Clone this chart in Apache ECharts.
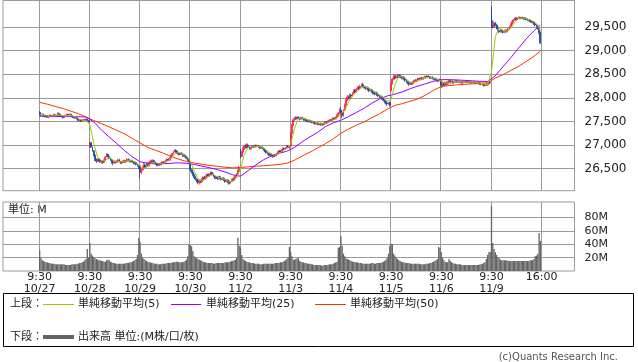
<!DOCTYPE html>
<html><head><meta charset="utf-8">
<script src="https://cdn.jsdelivr.net/npm/echarts@6/dist/echarts.min.js"></script>
<style>html,body{margin:0;padding:0;background:#fff}#c{width:638px;height:362px}</style>
</head><body><div id="c"></div>
<script>
// ---- tick labels / categories ----
const dayLabels = ['10/27','10/28','10/29','10/30','11/2','11/3','11/4','11/5','11/6','11/9'];
const openTime = '9:30', closeTime = '16:00';
const priceTicks = [26500,27000,27500,28000,28500,29000,29500];
const volTicks = [20,40,60,80];

// ---- 10-minute bars per day: [open, close, low, high] ----
const d1027 = [[27690,27660,27620,27720],[27660,27640,27615,27680],[27640,27655,27610,27670],[27655,27620,27600,27665],[27620,27600,27585,27640],[27600,27625,27590,27640],[27625,27590,27575,27635],[27590,27610,27570,27620],[27610,27630,27600,27650],[27630,27600,27590,27640],[27600,27620,27590,27635],[27620,27640,27610,27660],[27640,27615,27600,27660],[27615,27630,27600,27645],[27630,27670,27620,27690],[27670,27645,27630,27690],[27645,27625,27610,27660],[27625,27600,27590,27640],[27600,27580,27565,27615],[27580,27610,27570,27620],[27610,27630,27600,27640],[27630,27650,27620,27665],[27650,27640,27625,27660],[27640,27655,27635,27670],[27655,27630,27620,27665],[27630,27605,27595,27640],[27605,27590,27575,27615],[27590,27570,27555,27600],[27570,27585,27560,27595],[27585,27555,27540,27590],[27555,27520,27500,27565],[27520,27535,27505,27545],[27535,27505,27490,27545],[27505,27520,27495,27530],[27520,27540,27510,27550],[27540,27525,27510,27555],[27525,27550,27515,27560],[27550,27520,27505,27560],[27520,27500,27470,27535]];
const d1028 = [[26970,27050,26940,27080],[27050,26960,26940,27060],[26960,26880,26860,26970],[26880,26790,26760,26890],[26790,26700,26660,26800],[26700,26660,26620,26720],[26660,26700,26640,26720],[26700,26680,26650,26720],[26680,26640,26620,26700],[26640,26660,26610,26680],[26660,26630,26600,26680],[26630,26680,26620,26700],[26680,26750,26670,26770],[26750,26800,26740,26830],[26800,26760,26740,26820],[26760,26720,26700,26780],[26720,26680,26660,26740],[26680,26640,26600,26700],[26640,26620,26570,26660],[26620,26650,26600,26670],[26650,26630,26610,26670],[26630,26660,26620,26680],[26660,26690,26650,26710],[26690,26650,26630,26710],[26650,26620,26600,26670],[26620,26640,26600,26660],[26640,26670,26620,26690],[26670,26640,26620,26690],[26640,26660,26620,26680],[26660,26700,26640,26720],[26700,26680,26650,26720],[26680,26650,26630,26700],[26650,26670,26630,26690],[26670,26640,26620,26690],[26640,26610,26590,26660],[26610,26630,26590,26650],[26630,26590,26570,26650],[26590,26560,26540,26610],[26560,26520,26500,26580]];
const d1029 = [[26560,26420,26300,26580],[26420,26470,26380,26500],[26470,26520,26450,26560],[26520,26580,26500,26620],[26580,26540,26520,26610],[26540,26600,26520,26640],[26600,26560,26540,26630],[26560,26620,26550,26650],[26620,26660,26600,26690],[26660,26640,26610,26690],[26640,26670,26620,26700],[26670,26630,26610,26690],[26630,26600,26580,26650],[26600,26570,26550,26620],[26570,26600,26550,26620],[26600,26580,26560,26620],[26580,26610,26570,26630],[26610,26640,26590,26660],[26640,26620,26600,26660],[26620,26650,26610,26670],[26650,26670,26630,26690],[26670,26700,26650,26720],[26700,26680,26660,26720],[26680,26730,26670,26750],[26730,26780,26710,26800],[26780,26820,26770,26840],[26820,26860,26800,26880],[26860,26890,26840,26910],[26890,26860,26840,26910],[26860,26820,26800,26880],[26820,26800,26780,26840],[26800,26830,26780,26850],[26830,26810,26790,26850],[26810,26770,26750,26830],[26770,26790,26750,26810],[26790,26760,26740,26810],[26760,26720,26700,26780],[26720,26690,26660,26740],[26690,26660,26630,26710]];
const d1030 = [[26600,26480,26430,26620],[26480,26420,26390,26500],[26420,26380,26340,26440],[26380,26330,26300,26400],[26330,26280,26250,26350],[26280,26240,26210,26300],[26240,26200,26170,26260],[26200,26250,26160,26270],[26250,26220,26190,26270],[26220,26270,26200,26300],[26270,26320,26250,26340],[26320,26290,26270,26350],[26290,26340,26270,26360],[26340,26380,26320,26400],[26380,26350,26330,26400],[26350,26390,26330,26410],[26390,26420,26370,26440],[26420,26380,26360,26440],[26380,26340,26320,26400],[26340,26300,26280,26360],[26300,26320,26280,26340],[26320,26290,26260,26340],[26290,26330,26270,26350],[26330,26300,26280,26350],[26300,26270,26250,26320],[26270,26300,26250,26320],[26300,26260,26240,26320],[26260,26230,26200,26280],[26230,26260,26210,26280],[26260,26220,26190,26280],[26220,26190,26160,26240],[26190,26230,26170,26250],[26230,26270,26210,26290],[26270,26250,26230,26300],[26250,26300,26240,26330],[26300,26340,26280,26360],[26340,26390,26320,26410],[26390,26450,26370,26480],[26450,26500,26420,26560]];
const d1102 = [[26900,26760,26720,26930],[26760,26850,26740,26880],[26850,26920,26830,26960],[26920,26980,26900,27010],[26980,26950,26920,27020],[26950,27000,26930,27040],[27000,26960,26940,27030],[26960,26920,26900,26980],[26920,26950,26900,26970],[26950,26980,26930,27000],[26980,26960,26940,27000],[26960,26990,26940,27010],[26990,26970,26950,27010],[26970,26990,26950,27010],[26990,26960,26940,27000],[26960,26940,26920,26980],[26940,26960,26920,26980],[26960,26930,26910,26970],[26930,26900,26880,26950],[26900,26870,26850,26920],[26870,26840,26820,26890],[26840,26820,26790,26860],[26820,26790,26770,26840],[26790,26810,26770,26830],[26810,26780,26750,26820],[26780,26760,26730,26800],[26760,26790,26740,26810],[26790,26770,26750,26810],[26770,26810,26760,26830],[26810,26850,26800,26870],[26850,26880,26830,26900],[26880,26860,26840,26900],[26860,26900,26850,26920],[26900,26930,26880,26950],[26930,26910,26890,26950],[26910,26940,26890,26960],[26940,26980,26920,27000],[26980,26950,26930,27000],[26950,26960,26920,26990]];
const d1103 = [[26980,27250,26960,27280],[27250,27420,27230,27450],[27420,27540,27400,27570],[27540,27580,27510,27600],[27580,27560,27530,27610],[27560,27590,27540,27610],[27590,27570,27550,27610],[27570,27550,27520,27590],[27550,27580,27530,27600],[27580,27560,27540,27600],[27560,27530,27510,27580],[27530,27550,27510,27570],[27550,27520,27500,27570],[27520,27500,27480,27540],[27500,27520,27480,27540],[27520,27500,27480,27540],[27500,27480,27460,27520],[27480,27500,27460,27520],[27500,27470,27450,27510],[27470,27450,27430,27490],[27450,27470,27430,27490],[27470,27440,27420,27480],[27440,27460,27420,27480],[27460,27430,27410,27480],[27430,27450,27410,27470],[27450,27430,27410,27470],[27430,27460,27420,27480],[27460,27490,27440,27510],[27490,27470,27450,27510],[27470,27500,27460,27520],[27500,27530,27490,27550],[27530,27510,27490,27550],[27510,27540,27500,27560],[27540,27570,27530,27590],[27570,27550,27530,27590],[27550,27590,27540,27610],[27590,27630,27570,27650],[27630,27680,27610,27700],[27680,27740,27650,27780]];
const d1104 = [[27740,27700,27640,27800],[27700,27620,27570,27720],[27620,27740,27600,27760],[27740,27850,27720,27880],[27850,27950,27830,27980],[27950,28020,27930,28060],[28020,27990,27960,28050],[27990,28060,27970,28090],[28060,28040,28010,28090],[28040,28100,28020,28130],[28100,28150,28080,28180],[28150,28130,28100,28190],[28130,28180,28110,28210],[28180,28220,28160,28250],[28220,28200,28170,28250],[28200,28250,28180,28280],[28250,28280,28230,28310],[28280,28250,28220,28320],[28250,28230,28200,28270],[28230,28200,28170,28250],[28200,28220,28180,28240],[28220,28180,28150,28240],[28180,28150,28120,28200],[28150,28170,28130,28190],[28170,28130,28100,28190],[28130,28100,28070,28150],[28100,28080,28050,28120],[28080,28110,28060,28130],[28110,28070,28040,28130],[28070,28040,28010,28090],[28040,28010,27980,28060],[28010,28030,27990,28050],[28030,27990,27960,28050],[27990,27950,27920,28010],[27950,27920,27880,27970],[27920,27890,27860,27940],[27890,27870,27830,27910],[27870,27900,27850,27920],[27900,27850,27810,27920]];
const d1105 = [[28150,28300,28120,28330],[28300,28400,28280,28430],[28400,28450,28370,28490],[28450,28420,28390,28480],[28420,28470,28400,28500],[28470,28440,28410,28500],[28440,28480,28420,28500],[28480,28450,28420,28500],[28450,28420,28390,28470],[28420,28440,28390,28460],[28440,28400,28370,28460],[28400,28370,28340,28420],[28370,28340,28310,28390],[28340,28310,28280,28360],[28310,28290,28250,28330],[28290,28320,28270,28340],[28320,28300,28270,28340],[28300,28340,28280,28360],[28340,28370,28320,28390],[28370,28350,28330,28400],[28350,28380,28330,28400],[28380,28410,28360,28430],[28410,28390,28370,28430],[28390,28420,28370,28440],[28420,28400,28380,28440],[28400,28430,28380,28450],[28430,28450,28410,28470],[28450,28430,28410,28470],[28430,28460,28410,28480],[28460,28440,28420,28480],[28440,28420,28400,28460],[28420,28440,28400,28460],[28440,28410,28390,28460],[28410,28390,28370,28430],[28390,28410,28370,28430],[28410,28380,28360,28430],[28380,28360,28330,28400],[28360,28380,28340,28400],[28380,28390,28350,28410]];
const d1106 = [[28360,28260,28210,28400],[28260,28300,28220,28330],[28300,28270,28240,28330],[28270,28320,28250,28350],[28320,28290,28260,28350],[28290,28330,28270,28360],[28330,28360,28310,28390],[28360,28330,28300,28380],[28330,28350,28310,28370],[28350,28320,28300,28370],[28320,28340,28300,28360],[28340,28360,28320,28380],[28360,28340,28320,28380],[28340,28350,28320,28370],[28350,28330,28310,28370],[28330,28340,28310,28360],[28340,28320,28300,28360],[28320,28340,28300,28360],[28340,28350,28320,28370],[28350,28330,28310,28370],[28330,28345,28310,28360],[28345,28330,28310,28360],[28330,28340,28310,28360],[28340,28325,28300,28355],[28325,28340,28305,28360],[28340,28320,28300,28355],[28320,28335,28300,28350],[28335,28315,28295,28350],[28315,28330,28295,28350],[28330,28310,28290,28345],[28310,28290,28270,28330],[28290,28310,28260,28330],[28310,28280,28255,28320],[28280,28260,28240,28300],[28260,28290,28245,28310],[28290,28270,28250,28310],[28270,28300,28255,28320],[28300,28330,28285,28360],[28330,28320,28300,28360]];
const d1109 = [[29880,29520,29480,29945],[29520,29500,29470,29640],[29500,29580,29480,29630],[29580,29540,29510,29610],[29540,29480,29450,29570],[29480,29430,29400,29500],[29430,29400,29370,29460],[29400,29440,29380,29460],[29440,29410,29380,29460],[29410,29390,29360,29430],[29390,29420,29370,29440],[29420,29400,29380,29450],[29400,29430,29380,29450],[29430,29460,29410,29480],[29460,29510,29450,29530],[29510,29560,29490,29580],[29560,29610,29540,29630],[29610,29650,29590,29670],[29650,29680,29630,29700],[29680,29660,29640,29710],[29660,29690,29640,29715],[29690,29700,29670,29720],[29700,29680,29660,29720],[29680,29700,29660,29720],[29700,29690,29670,29720],[29690,29670,29650,29710],[29670,29690,29650,29710],[29690,29660,29640,29700],[29660,29640,29620,29680],[29640,29650,29620,29670],[29650,29620,29600,29660],[29620,29600,29580,29640],[29600,29610,29570,29630],[29610,29570,29540,29620],[29570,29540,29510,29590],[29540,29520,29490,29560],[29520,29480,29440,29540],[29480,29390,29350,29500],[29390,29160,29140,29400]];

// ---- volume per bar (M) ----
const v1027 = [31,20,16,15,14,13,13,12,12,11,11,11,10,10,10,10,10,10,10,10,9,9,9,9,9,10,10,10,10,11,11,12,12,13,14,16,18,33,20];
const v1028 = [42,26,23,21,19,18,17,16,16,15,15,14,14,16,17,16,14,13,12,12,11,11,11,11,11,11,11,11,12,12,12,13,13,14,15,16,18,24,50];
const v1029 = [44,26,20,18,16,15,14,13,13,12,12,11,11,11,10,10,10,11,11,11,11,12,12,12,12,13,13,13,14,14,13,13,13,13,14,15,17,22,39];
const v1030 = [39,37,30,22,20,19,18,17,16,15,14,13,13,12,12,12,12,12,11,11,12,12,12,12,12,12,12,13,13,13,13,14,15,15,16,17,20,50,38];
const v1102 = [35,24,18,16,15,14,13,13,12,12,12,11,11,11,11,10,10,10,11,11,11,11,11,11,11,11,11,12,12,12,12,13,13,14,15,16,18,21,36];
const v1103 = [29,22,17,17,18,19,19,15,14,13,13,12,12,11,11,11,10,10,9,9,9,9,9,9,8,8,9,9,9,9,10,10,10,11,12,13,14,35,36];
const v1104 = [52,38,26,22,19,18,17,16,15,14,14,13,13,13,12,12,12,11,11,11,11,11,11,11,12,12,11,11,12,12,12,12,13,14,15,17,20,26,38];
const v1105 = [41,40,26,23,20,18,16,15,14,13,13,12,12,12,12,11,11,11,11,11,11,11,11,10,10,10,10,11,11,11,12,12,13,14,15,16,18,36,34];
const v1106 = [28,20,16,14,13,13,18,15,13,12,11,11,10,10,10,10,9,9,9,9,9,9,9,9,9,9,9,9,9,9,10,10,11,12,13,18,24,28,29];
const v1109 = [97,42,33,28,24,21,19,17,16,16,16,16,16,15,15,15,15,15,15,15,15,15,15,15,15,15,15,15,15,15,16,16,16,18,22,23,26,57,45];

// ---- moving averages (every MA5_STEP / MA_LONG_STEP bars, plus last bar) ----
const ma5 = [27650,27645,27615,27610,27625,27640,27620,27610,27640,27600,27560,27525,27525,
27429,27036,26746,26668,26672,26742,26684,26640,26650,26644,26670,26668,26628,
26544,26502,26560,26616,26640,26596,26610,26656,26712,26816,26846,26806,26770,
26662,26454,26286,26236,26288,26350,26376,26326,26302,26272,26232,26232,26310,
26488,26802,26962,26962,26970,26970,26938,26872,26808,26782,26820,26884,26932,
27016,27350,27568,27570,27548,27518,27494,27466,27450,27452,27490,27530,27576,
27668,27730,27910,28042,28120,28196,28242,28216,28170,28118,28062,28004,27924,
27962,28284,28452,28446,28394,28326,28324,28370,28400,28426,28440,28420,28390,
28354,28308,28314,28338,28342,28344,28336,28339,28336,28327,28316,28290,28280,
28548,29292,29486,29414,29410,29472,29602,29676,29692,29682,29652,29610,29544,
29418];
const ma25 = [27610,27610,27605,27605,27600,27600,27595,27490,27320,27170,27030,26880,26750,26645,
26615,26600,26605,26615,26625,26615,26590,26555,26520,26480,26430,26370,26340,26460,26580,26690,
26770,26825,26870,26950,27070,27175,27270,27390,27470,27525,27605,27690,27780,27885,27975,28040,
28080,28130,28195,28250,28300,28350,28385,28385,28380,28370,28360,28350,28345,28470,28660,28850,
29050,29250,29420,29540];
const ma50 = [27905,27865,27820,27775,27720,27665,27595,27520,27455,27385,27310,27235,27140,27045,
26950,26890,26830,26760,26700,26655,26620,26595,26570,26550,26530,26518,26525,26540,26552,26563,
26575,26590,26615,26680,26770,26850,26940,27030,27130,27250,27340,27420,27490,27580,27660,27760,
27840,27880,27930,27980,28060,28160,28240,28260,28275,28285,28295,28305,28320,28420,28490,28580,
28665,28770,28880,28990];
const MA5_STEP = 3, MA_LONG_STEP = 6;

// ---- build ----
const PAD_L = 28, PAD_R = 26;
const days = [d1027,d1028,d1029,d1030,d1102,d1103,d1104,d1105,d1106,d1109];
const vols = [v1027,v1028,v1029,v1030,v1102,v1103,v1104,v1105,v1106,v1109];
const PER_DAY = d1027.length;
const ohlc = [].concat(...days);
const volume = [].concat(...vols);
const N = ohlc.length;
const total = PAD_L + N + PAD_R;
const cats = Array.from({length: total}, (_, i) => String(i));
const candleData = cats.map((_, i) => { const k = i - PAD_L; return (k >= 0 && k < N) ? ohlc[k] : '-'; });
const volData = cats.map((_, i) => { const k = i - PAD_L; return (k >= 0 && k < N) ? volume[k] : '-'; });
const maSeries = (arr, step) => arr.map((v, k) => [PAD_L + Math.min(k * step, N - 1), v]);

const labelAt = {};
dayLabels.forEach((d, i) => { labelAt[PAD_L + i * PER_DAY] = openTime + '\n' + d; });
labelAt[PAD_L + N] = closeTime;
const isMark = (i) => labelAt[i] !== undefined;

const UP = '#ff1444', DOWN = '#0b3a9e';
const GRIDC = '#9a9a9a';
const FONT = "'DejaVu Sans','Noto Sans CJK JP',sans-serif";
const PMIN = 26034, PMAX = 30061;

const chart = echarts.init(document.getElementById('c'), null, {renderer: 'canvas'});
chart.setOption({
  animation: false,
  backgroundColor: '#fff',
  grid: [
    {left: 3, top: 0.5, width: 571.5, height: 190.2, show: true, borderColor: GRIDC, borderWidth: 1},
    {left: 3, top: 202, width: 571.5, height: 69, show: true, borderColor: GRIDC, borderWidth: 1}
  ],
  xAxis: [
    {type: 'category', gridIndex: 0, data: cats, boundaryGap: true,
     axisLine: {show: false}, axisTick: {show: false}, axisLabel: {show: false},
     splitLine: {show: true, interval: isMark, lineStyle: {color: GRIDC, width: 1}}},
    {type: 'category', gridIndex: 1, data: cats, boundaryGap: true,
     axisLine: {show: false}, axisTick: {show: false},
     axisLabel: {show: true, interval: isMark, formatter: (v, i) => labelAt[i] || '',
                 fontFamily: FONT, fontSize: 11, color: '#222', lineHeight: 12.4, margin: 0},
     splitLine: {show: true, interval: isMark, lineStyle: {color: GRIDC, width: 1}}}
  ],
  yAxis: [
    {type: 'value', gridIndex: 0, position: 'right', min: PMIN, max: PMAX,
     axisLine: {show: false}, axisTick: {show: false, customValues: priceTicks},
     axisLabel: {customValues: priceTicks, fontFamily: FONT, fontSize: 12, color: '#222', margin: 10,
                 formatter: v => v.toLocaleString('en-US')},
     splitLine: {show: true, lineStyle: {color: GRIDC, width: 1}}},
    {type: 'value', gridIndex: 1, position: 'right', min: 0, max: 103.4,
     axisLine: {show: false}, axisTick: {show: false, customValues: volTicks},
     axisLabel: {customValues: volTicks, fontFamily: FONT, fontSize: 11, color: '#222', margin: 10,
                 formatter: v => v + 'M'},
     splitLine: {show: true, lineStyle: {color: GRIDC, width: 1}}}
  ],
  series: [
    {type: 'candlestick', xAxisIndex: 0, yAxisIndex: 0, data: candleData, barWidth: 1.4,
     itemStyle: {color: UP, color0: DOWN, borderColor: UP, borderColor0: DOWN, borderWidth: 0.7}},
    {type: 'line', xAxisIndex: 0, yAxisIndex: 0, data: maSeries(ma50, MA_LONG_STEP), showSymbol: false,
     lineStyle: {color: '#ff3300', width: 1}, z: 3},
    {type: 'line', xAxisIndex: 0, yAxisIndex: 0, data: maSeries(ma25, MA_LONG_STEP), showSymbol: false,
     lineStyle: {color: '#9a00ff', width: 1}, z: 3},
    {type: 'line', xAxisIndex: 0, yAxisIndex: 0, data: maSeries(ma5, MA5_STEP), showSymbol: false,
     lineStyle: {color: '#99cc00', width: 1}, z: 3},
    {type: 'bar', xAxisIndex: 1, yAxisIndex: 1, data: volData, barWidth: '100%', barGap: '0%',
     itemStyle: {color: '#646464'}}
  ],
  graphic: [
    {type: 'text', x: 8, y: 210, style: {text: '単位: M', font: '11px ' + FONT, fill: '#222', verticalAlign: 'middle'}},
    {type: 'rect', shape: {x: 3.5, y: 293.5, width: 630, height: 53}, style: {fill: 'none', stroke: '#000', lineWidth: 1}},
    {type: 'text', x: 10, y: 304, style: {text: '上段：', font: '11px ' + FONT, fill: '#222', verticalAlign: 'middle'}},
    {type: 'line', shape: {x1: 43, y1: 304.5, x2: 74, y2: 304.5}, style: {stroke: '#99cc00', lineWidth: 1}},
    {type: 'text', x: 78, y: 304, style: {text: '単純移動平均(5)', font: '11px ' + FONT, fill: '#222', verticalAlign: 'middle'}},
    {type: 'line', shape: {x1: 171, y1: 304.5, x2: 201, y2: 304.5}, style: {stroke: '#9a00ff', lineWidth: 1}},
    {type: 'text', x: 206, y: 304, style: {text: '単純移動平均(25)', font: '11px ' + FONT, fill: '#222', verticalAlign: 'middle'}},
    {type: 'line', shape: {x1: 315, y1: 304.5, x2: 346, y2: 304.5}, style: {stroke: '#ff3300', lineWidth: 1}},
    {type: 'text', x: 350, y: 304, style: {text: '単純移動平均(50)', font: '11px ' + FONT, fill: '#222', verticalAlign: 'middle'}},
    {type: 'text', x: 10, y: 337, style: {text: '下段：', font: '11px ' + FONT, fill: '#222', verticalAlign: 'middle'}},
    {type: 'line', shape: {x1: 43, y1: 337, x2: 74, y2: 337}, style: {stroke: '#646464', lineWidth: 4}},
    {type: 'text', x: 78, y: 337, style: {text: '出来高 単位:(M株/口/枚)', font: '11px ' + FONT, fill: '#222', verticalAlign: 'middle'}},
    {type: 'text', x: 618, y: 357, style: {text: '(c)Quants Research Inc.', font: '10px ' + FONT, fill: '#555', align: 'right', verticalAlign: 'middle'}}
  ]
});
</script></body></html>
